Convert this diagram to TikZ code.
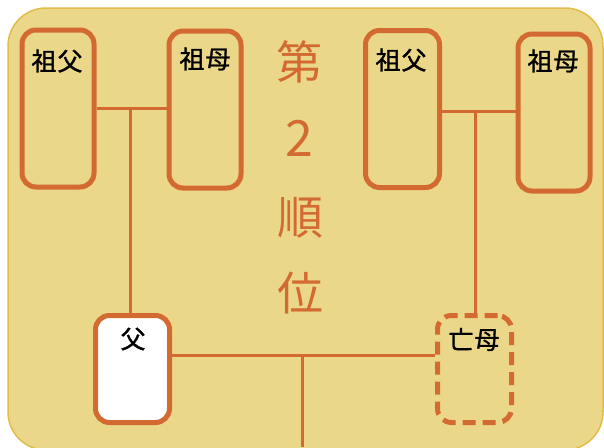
\documentclass[tikz,border=0pt]{standalone}
\usepackage{fontspec}
\setmainfont{Noto Sans CJK JP}
\newfontfamily\lblfont[FakeBold=1.2]{Noto Sans CJK JP}
\definecolor{bgfill}{RGB}{235,215,137}
\definecolor{bgline}{RGB}{226,188,72}
\definecolor{kin}{RGB}{210,106,50}
\begin{document}
\begin{tikzpicture}[x=1pt,y=-1pt,
  kinbox/.style={draw=kin, line width=5pt, rounded corners=14pt, inner sep=0pt},
  gpbox/.style={kinbox, minimum width=72pt, minimum height=157pt},
  pabox/.style={kinbox, minimum width=74pt, minimum height=107pt},
  deadbox/.style={pabox, dash pattern=on 13pt off 7pt},
  namelbl/.style={inner sep=0pt, font=\lblfont\fontsize{25}{25}\selectfont, text=black},
  ranktxt/.style={inner sep=0pt, text=kin, font=\fontsize{46}{46}\selectfont},
  link/.style={draw=kin, line width=3pt}]
\useasboundingbox (0,0) rectangle (604,447);
\path[fill=bgfill, draw=bgline, line width=1.5pt, rounded corners=38pt] (8,8) rectangle (603,450);
% boxes
\node[gpbox] (gfl) at (58,108.5) {};
\node[gpbox] (gml) at (205,109.5) {};
\node[gpbox, minimum width=74pt] (gfr) at (402.5,109) {};
\node[gpbox] (gmr) at (554,112.5) {};
\node[pabox, fill=white] (fa) at (132.5,369) {};
\node[deadbox] (mo) at (474.5,369) {};
% labels
\node[namelbl] (tgfl) at (57,61) {祖\kern1pt 父};
\node[namelbl] (tgml) at (205,59) {祖\kern1pt 母};
\node[namelbl] (tgfr) at (401,60) {祖\kern1pt 父};
\node[namelbl] (tgmr) at (553,61) {祖\kern1pt 母};
\node[namelbl] (tfa) at (133,339) {父};
\node[namelbl] (tmo) at (474,339.5) {亡\kern1pt 母};
% rank text
\node[ranktxt] (r1) at (299,62) {第};
\node[ranktxt, font=\fontsize{50}{50}\selectfont] (r2) at (299,138) {2};
\node[ranktxt] (r3) at (300,218) {順};
\node[ranktxt] (r4) at (300,293) {位};
% connectors
\coordinate (jl) at (130,108);
\coordinate (jr) at (475,111);
\coordinate (pl) at (302,355);
\coordinate (ch) at (302,447);
\draw[link] (gfl.east |- jl) -- (gml.west |- jl);
\draw[link] (jl) -- (jl |- fa.north);
\draw[link] (gfr.east |- jr) -- (gmr.west |- jr);
\draw[link] (jr) -- (jr |- mo.north);
\draw[link] (fa.east |- pl) -- (mo.west |- pl);
\draw[link] (pl) -- (ch);
\end{tikzpicture}
\end{document}
